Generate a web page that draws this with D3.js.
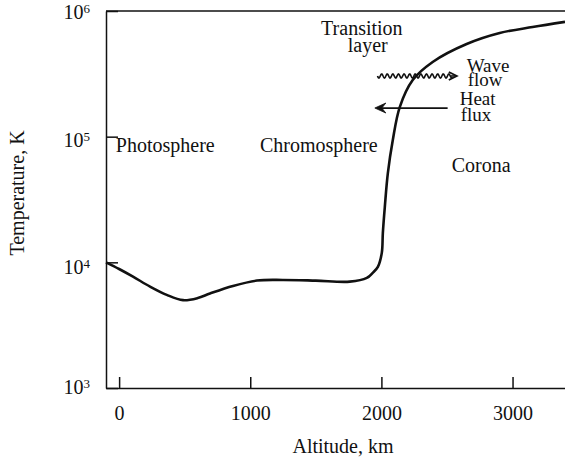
<!DOCTYPE html>
<html><head><meta charset="utf-8">
<script src="https://cdn.jsdelivr.net/npm/d3@7"></script>
<style>
body{margin:0;background:#fff;}
text{font-family:"Liberation Serif","Times New Roman",serif;fill:#111;}
</style></head>
<body><svg id="c" width="565" height="463"></svg>
<script>
// ---- data ----
const altitude = [-100, 0, 106, 236, 363, 487, 600, 693, 868, 1051, 1249, 1500, 1759, 1889, 1934, 1973, 2003, 2011, 2026, 2049, 2087, 2140, 2239, 2391, 2650, 2902, 3153, 3400];
const temperature = [10000, 8850, 7690, 6410, 5510, 5000, 5200, 5650, 6490, 7160, 7240, 7150, 7020, 7510, 8250, 9200, 11900, 17100, 27500, 51000, 94000, 172000, 282000, 393000, 546000, 668000, 746000, 820000];
const xTicks = [0, 1000, 2000, 3000];
const yTicks = [1e3, 1e4, 1e5, 1e6];
const yExponents = ["3", "4", "5", "6"];
const regionLabels = ["Photosphere", "Chromosphere", "Corona"];
const regionAlt = [-25, 1074, 2536];
const regionT = [75500, 75500, 52400];
const transLabels = ["Transition", "layer"];
const transAlt = [1851, 1896];
const transT = [644000, 472000];
const flowLabels = ["Wave", "flow", "Heat", "flux"];
const flowAlt = [2650, 2658, 2597, 2605];
const flowT = [327000, 253000, 179000, 134000];
const waveArrow = {from: 1970, to: 2575, T: 304000};
const heatArrow = {from: 2505, to: 1950, T: 169000};

// ---- chart ----
const svg = d3.select("#c");
const x = d3.scaleLinear().domain([-100, 3400]).range([106, 565]);
const y = d3.scaleLog().domain([1e3, 1e6]).range([388, 11]);
const ink = "#111";

// frame top line
svg.append("line").attr("x1", x(-100)).attr("x2", x(3400)).attr("y1", y(1e6)).attr("y2", y(1e6))
  .attr("stroke", ink).attr("stroke-width", 1.5);

// x axis
const gx = svg.append("g").attr("transform", `translate(0,${y(1e3)})`)
  .call(d3.axisBottom(x).tickValues(xTicks).tickSizeInner(-11).tickSizeOuter(0).tickPadding(18).tickFormat(d3.format("d")));
gx.select(".domain").attr("stroke", ink).attr("stroke-width", 1.5);
gx.selectAll(".tick line").attr("stroke", ink).attr("stroke-width", 1.5);
gx.selectAll("text").attr("font-size", 20).attr("font-family", "Liberation Serif").attr("fill", ink);

// y axis
const offs = {1000: 5, 10000: 11, 100000: 10, 1000000: 7};
const gy = svg.append("g").attr("transform", `translate(${x(-100)},0)`)
  .call(d3.axisLeft(y).tickValues(yTicks).tickSizeInner(-12).tickSizeOuter(0).tickPadding(16).tickFormat(() => ""));
gy.select(".domain").attr("stroke", ink).attr("stroke-width", 1.5);
gy.selectAll(".tick line").attr("stroke", ink).attr("stroke-width", 1.5);
gy.selectAll(".tick text").each(function(d) {
  const t = d3.select(this).attr("dy", null).attr("y", offs[d]).attr("font-size", 20)
    .attr("font-family", "Liberation Serif").attr("fill", ink).attr("text-anchor", "end");
  t.text("");
  t.append("tspan").text("10");
  t.append("tspan").attr("font-size", 13).attr("dy", -6).text(yExponents[yTicks.indexOf(d)]);
});

// curve
const pts = altitude.map((a, i) => [a, temperature[i]]);
svg.append("path").datum(pts)
  .attr("d", d3.line().x(d => x(d[0])).y(d => y(d[1])).curve(d3.curveCatmullRom.alpha(0.5)))
  .attr("fill", "none").attr("stroke", ink).attr("stroke-width", 2.6);

// axis titles
svg.append("text").attr("x", 343).attr("y", 453).attr("text-anchor", "middle").attr("font-size", 20).text("Altitude, km");
svg.append("text").attr("transform", "translate(24,193) rotate(-90)").attr("text-anchor", "middle").attr("font-size", 20).text("Temperature, K");

// region labels
regionLabels.forEach((s, i) => svg.append("text").attr("x", x(regionAlt[i])).attr("y", y(regionT[i])).attr("font-size", 20).text(s));
transLabels.forEach((s, i) => svg.append("text").attr("x", x(transAlt[i])).attr("y", y(transT[i])).attr("text-anchor", "middle").attr("font-size", 20).text(s));
flowLabels.forEach((s, i) => svg.append("text").attr("x", x(flowAlt[i])).attr("y", y(flowT[i])).attr("font-size", 19).text(s));

// wave arrow (wavy line)
const wx0 = x(waveArrow.from), wx1 = x(waveArrow.to), wy = y(waveArrow.T);
const wave = d3.range(wx0, wx1 - 4, 0.5).map(px => [px, wy + 2 * Math.sin((px - wx0) / 5.6 * 2 * Math.PI)]);
svg.append("path").attr("d", d3.line()(wave)).attr("fill", "none").attr("stroke", ink).attr("stroke-width", 1.6);
svg.append("path").attr("d", `M${wx1 - 8},${wy - 4} L${wx1},${wy} L${wx1 - 8},${wy + 4}`).attr("fill", "none").attr("stroke", ink).attr("stroke-width", 1.8);
svg.append("line").attr("x1", wx1 - 6).attr("x2", wx1).attr("y1", wy).attr("y2", wy).attr("stroke", ink).attr("stroke-width", 1.6);

// heat flux arrow
const hx0 = x(heatArrow.from), hx1 = x(heatArrow.to), hy = y(heatArrow.T);
svg.append("line").attr("x1", hx0).attr("x2", hx1 + 2).attr("y1", hy).attr("y2", hy).attr("stroke", ink).attr("stroke-width", 1.8);
svg.append("path").attr("d", `M${hx1},${hy} L${hx1 + 11},${hy - 5} L${hx1 + 7},${hy} L${hx1 + 11},${hy + 5} Z`).attr("fill", ink).attr("stroke", ink).attr("stroke-width", 0.8);
</script></body></html>
